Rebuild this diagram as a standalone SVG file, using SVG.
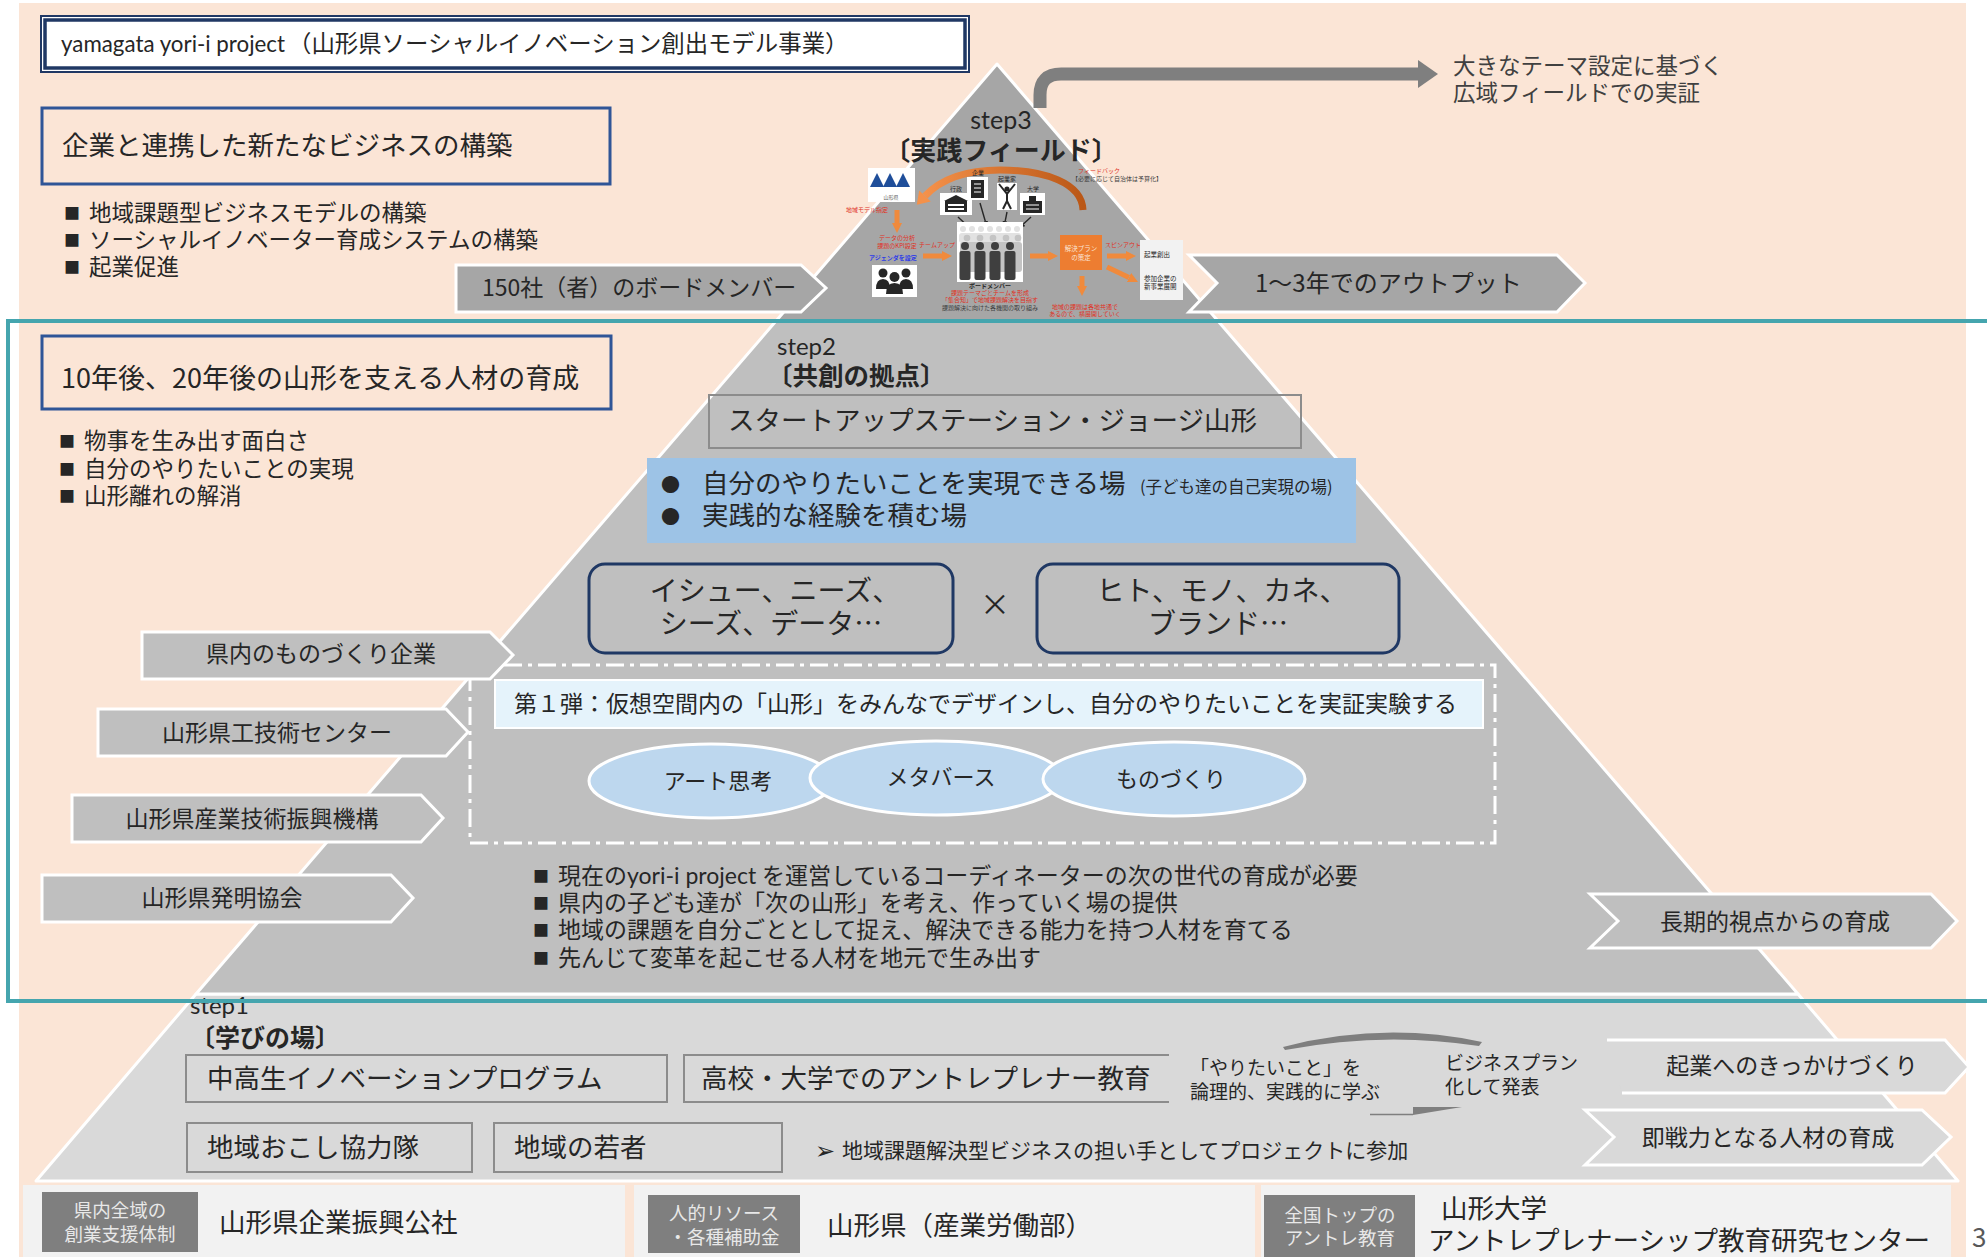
<svg xmlns="http://www.w3.org/2000/svg" width="1987" height="1257" viewBox="0 0 1987 1257">
<defs>
<style>
text{font-family:"Noto Sans CJK JP","Noto Sans",sans-serif;fill:#262626}
.lat{font-family:Lato,"Noto Sans CJK JP",sans-serif}
.m{text-anchor:middle}
.b{font-weight:700}
.f19{font-size:19px}.f21{font-size:21px}.f22{font-size:22.5px}.f23{font-size:23px}.f24{font-size:24px}
.f26{font-size:26.5px}.f27{font-size:27px}.f28{font-size:28px}
.sq{font-size:16px}
.tag{fill:#7F7F7F}
.tagt{fill:#E8E8E8;font-size:18.5px;text-anchor:middle}
.arrow{stroke:#fff;stroke-width:3;stroke-linejoin:miter}
.ar3{fill:#A6A6A6}.ar2{fill:#BFBFBF}.ar1{fill:#D9D9D9}
.frame{fill:none;stroke:#2F5597;stroke-width:3}
.sbox{fill:none;stroke:#8C8C8C;stroke-width:2}
.tiny{font-size:6px}
.red{fill:#E0301E}
.oa{stroke:#F08A3C;stroke-width:5;fill:none;marker-end:url(#oh)}
.ka{stroke:#262626;stroke-width:1.4;fill:none;marker-end:url(#kh)}
.ico{fill:#fff}
.dk{fill:#262626}
</style>
<linearGradient id="arcGrad" x1="0" y1="0" x2="1" y2="0">
<stop offset="0" stop-color="#F4914A"/><stop offset="1" stop-color="#BA5716"/>
</linearGradient>
<marker id="oh" viewBox="0 0 10 10" refX="0" refY="5" markerWidth="2" markerHeight="2.4" orient="auto"><path d="M0 0 L10 5 L0 10 Z" fill="#F08A3C"/></marker>
<marker id="kh" viewBox="0 0 10 10" refX="0" refY="5" markerWidth="4" markerHeight="4" orient="auto"><path d="M0 0 L10 5 L0 10 Z" fill="#262626"/></marker>
</defs>

<!-- page background -->
<g id="background">
<rect width="1987" height="1257" fill="#fff"/>
<rect x="19" y="3" width="1947" height="1254" fill="#FBE5D6"/>
</g>

<!-- three-layer pyramid -->
<g id="pyramid" stroke="#fff" stroke-width="3" stroke-linejoin="round">
<polygon id="layer-step1" points="196,994 1798,994 1958,1181 36,1181" fill="#D9D9D9"/>
<polygon id="layer-step2" points="776,321 1218,321 1798,994 196,994" fill="#BFBFBF"/>
<polygon id="layer-step3" points="997,64 1218,321 776,321" fill="#A6A6A6"/>
</g>

<!-- header -->
<g id="title">
<rect x="41" y="16" width="928" height="56" fill="#fff" stroke="#203864" stroke-width="2"/>
<rect x="45" y="20" width="920" height="48" fill="#fff" stroke="#203864" stroke-width="3.5"/>
<text class="lat" x="61" y="52" style="font-size:23px" textLength="224" lengthAdjust="spacingAndGlyphs">yamagata yori-i project</text>
<text x="288" y="52" style="font-size:23.4px">（山形県ソーシャルイノベーション創出モデル事業）</text>
</g>

<g id="goal-business">
<rect class="frame" x="42" y="108" width="568" height="76"/>
<text class="f26" x="62" y="155">企業と連携した新たなビジネスの構築</text>
<text class="f22"><tspan class="sq" x="64" y="219">■</tspan><tspan x="89" y="221">地域課題型ビジネスモデルの構築</tspan></text>
<text class="f22"><tspan class="sq" x="64" y="246">■</tspan><tspan x="89" y="248">ソーシャルイノベーター育成システムの構築</tspan></text>
<text class="f22"><tspan class="sq" x="64" y="273">■</tspan><tspan x="89" y="275">起業促進</tspan></text>
</g>

<!-- wide-area arrow, upper right -->
<g id="field-arrow">
<path d="M1040 108 V95 Q1040 74 1061 74 H1420" fill="none" stroke="#7F7F7F" stroke-width="13"/>
<polygon points="1418,60 1438,74 1418,88" fill="#7F7F7F"/>
<text class="f22" x="1453" y="74" style="fill:#404040">大きなテーマ設定に基づく</text>
<text class="f22" x="1453" y="101" style="fill:#404040">広域フィールドでの実証</text>
</g>

<!-- step3 -->
<g id="step3-label">
<text class="lat m" x="1001" y="129" style="font-size:25px">step3</text>
<text class="b m" x="1001" y="160" style="font-size:26px">〔実践フィールド〕</text>
</g>

<g id="step3-board-members">
<polygon class="arrow ar3" points="456,265 801,265 826,288 801,312 456,312"/>
<text class="f23" x="482" y="296">150社（者）のボードメンバー</text>
</g>
<g id="step3-output">
<polygon class="arrow ar3" points="1189,255 1557,255 1585,283 1557,312 1189,312 1217,283"/>
<text class="f24" x="1255" y="292">1〜3年でのアウトプット</text>
</g>

<!-- practice-field scheme inside step3 -->
<g id="step3-scheme">
<path d="M1083 210 C1082 183 1045 170 1000 170 C965 170 940 180 925 196" fill="none" stroke="url(#arcGrad)" stroke-width="7"/>
<polygon points="916.8,204.8 930.8,201.5 919.2,190.5" fill="#F4914A"/>
<text class="tiny red" x="1078" y="173">フィードバック</text>
<text class="tiny" x="1072" y="181" style="fill:#404040">【必要に応じて自治体は予算化】</text>

<rect class="ico" x="868" y="168" width="47" height="34"/>
<polygon points="870,187 877,173 884,187" fill="#1F4E9A"/>
<polygon points="883,187 890,173 897,187" fill="#1F4E9A"/>
<polygon points="896,187 903,173 910,187" fill="#1F4E9A"/>
<text class="m" x="891" y="199" style="font-size:5px;fill:#595959">山形県</text>

<text class="tiny m" x="956" y="191">行政</text>
<rect class="ico" x="940" y="193" width="32" height="22"/>
<polygon class="dk" points="944,201 956,195 968,201"/>
<rect class="dk" x="945" y="201" width="22" height="11"/>
<rect x="948" y="204" width="16" height="2" fill="#fff"/>
<rect x="948" y="208" width="16" height="2" fill="#fff"/>

<text class="tiny m" x="978" y="175">企業</text>
<rect class="ico" x="967" y="177" width="21" height="23"/>
<rect class="dk" x="971" y="180" width="13" height="18"/>
<path d="M974 184 H981 M974 188 H981 M974 192 H981" stroke="#fff" stroke-width="1.2"/>

<text class="tiny m" x="1007" y="181">起業家</text>
<rect class="ico" x="997" y="183" width="20" height="27"/>
<circle class="dk" cx="1007" cy="189" r="2.6"/>
<path d="M999 184 L1007 194 L1015 184 M1007 192 V201 L1003 209 M1007 201 L1011 209" stroke="#262626" stroke-width="2" fill="none"/>

<text class="tiny m" x="1033" y="191">大学</text>
<rect class="ico" x="1020" y="193" width="25" height="22"/>
<rect class="dk" x="1029" y="196" width="7" height="6"/>
<rect class="dk" x="1023" y="201" width="19" height="12"/>
<path d="M1026 205 H1039 M1026 209 H1039" stroke="#fff" stroke-width="1"/>

<line class="ka" x1="958" y1="217" x2="966.6" y2="224.9"/>
<line class="ka" x1="980" y1="203" x2="985.3" y2="221.2"/>
<line class="ka" x1="1007" y1="212" x2="1005.2" y2="221.1"/>
<line class="ka" x1="1031" y1="217" x2="1023.4" y2="224"/>

<rect class="ico" x="957" y="222" width="66" height="60"/>
<g fill="#E2E2E2">
<circle cx="963" cy="229" r="3"/><circle cx="972" cy="229" r="3"/><circle cx="981" cy="229" r="3"/><circle cx="990" cy="229" r="3"/><circle cx="999" cy="229" r="3"/><circle cx="1008" cy="229" r="3"/><circle cx="1017" cy="229" r="3"/>
<rect x="959" y="233" width="62" height="10" rx="3"/>
</g>
<g fill="#C4C4C4">
<circle cx="967" cy="238" r="3.3"/><circle cx="980" cy="238" r="3.3"/><circle cx="993" cy="238" r="3.3"/><circle cx="1006" cy="238" r="3.3"/><circle cx="1018" cy="238" r="3.3"/>
<rect x="960" y="242" width="62" height="30" rx="3"/>
</g>
<g fill="#3F3F3F">
<circle cx="965" cy="246" r="4"/><circle cx="980" cy="246" r="4"/><circle cx="995" cy="246" r="4"/><circle cx="1010" cy="246" r="4"/>
<rect x="959.5" y="251" width="11" height="29" rx="2"/><rect x="974.5" y="251" width="11" height="29" rx="2"/><rect x="989.5" y="251" width="11" height="29" rx="2"/><rect x="1004.5" y="251" width="11" height="29" rx="2"/>
</g>
<text class="m b" x="990" y="288" style="font-size:6px">ボードメンバー</text>
<text class="tiny m red" x="990" y="295">課題テーマごとチームを形成</text>
<text class="tiny m red" x="990" y="302">「集合知」で地域課題解決を目指す</text>
<text class="tiny m" x="990" y="310" style="fill:#404040">課題解決に向けた各機関の取り組み</text>

<text class="tiny m red" x="867" y="212">地域モデル指定</text>
<line class="oa" x1="897" y1="210" x2="897" y2="223"/>
<text class="tiny m red" x="897" y="240">データの分析</text>
<text class="tiny m red" x="897" y="248">課題のKPI設定</text>
<text class="tiny m b" x="893" y="260" style="fill:#2E3CE8">アジェンダを設定</text>
<rect class="ico" x="872" y="265" width="45" height="32"/>
<g class="dk">
<circle cx="883" cy="273" r="4.5"/><circle cx="906" cy="273" r="4.5"/>
<path d="M876 289 Q876 279 883 279 Q890 279 890 289 Z"/><path d="M899 289 Q899 279 906 279 Q913 279 913 289 Z"/>
<circle cx="894.5" cy="277" r="5"/>
<path d="M886 294 Q886 283 894.5 283 Q903 283 903 294 Z"/>
</g>

<text class="tiny m red" x="937" y="247">チームアップ</text>
<line class="oa" x1="923" y1="256" x2="942" y2="256"/>
<line class="oa" x1="1030" y1="256" x2="1048" y2="256"/>
<rect x="1060" y="235" width="42" height="35" fill="#ED7D31"/>
<text class="m" x="1081" y="251" style="font-size:6.5px;fill:#FBE5D6">解決プラン</text>
<text class="m" x="1081" y="260" style="font-size:6.5px;fill:#FBE5D6">の策定</text>
<line class="oa" x1="1082" y1="276" x2="1082" y2="286"/>
<text class="tiny m red" x="1085" y="309">地域の課題は各地共通で</text>
<text class="tiny m red" x="1085" y="316">あるので、横展開していく</text>

<text class="tiny m red" x="1123" y="247">スピンアウト</text>
<line class="oa" x1="1107" y1="256" x2="1126" y2="256"/>
<line class="oa" x1="1107" y1="267" x2="1129" y2="277.6"/>
<rect x="1140" y="240" width="43" height="60" fill="#F2F2F2"/>
<text x="1144" y="257" style="font-size:6.5px">起業創出</text>
<text x="1144" y="281" style="font-size:6.5px">参加企業の</text>
<text x="1144" y="289" style="font-size:6.5px">新事業展開</text>
</g>

<!-- step2 -->
<g id="goal-people">
<rect class="frame" x="42" y="336" width="569" height="73"/>
<text class="f27" x="61" y="388">10年後、20年後の山形を支える人材の育成</text>
<text class="f22"><tspan class="sq" x="59" y="447">■</tspan><tspan x="84" y="449">物事を生み出す面白さ</tspan></text>
<text class="f22"><tspan class="sq" x="59" y="475">■</tspan><tspan x="84" y="477">自分のやりたいことの実現</tspan></text>
<text class="f22"><tspan class="sq" x="59" y="502">■</tspan><tspan x="84" y="504">山形離れの解消</tspan></text>
</g>

<g id="step2-label">
<text class="lat" x="777" y="355" style="font-size:24px">step2</text>
<text class="b" x="767" y="385" style="font-size:25.5px">〔共創の拠点〕</text>
</g>

<g id="startup-station">
<rect class="sbox" x="709" y="395" width="592" height="53"/>
<text class="f26" x="728" y="430">スタートアップステーション・ジョージ山形</text>
</g>

<g id="place">
<rect x="647" y="458" width="709" height="85" fill="#9DC3E6"/>
<text x="661" y="492" style="font-size:19px">●</text>
<text class="f26" x="702" y="493">自分のやりたいことを実現できる場</text>
<text x="1140" y="493" style="font-size:16.5px">(子ども達の自己実現の場)</text>
<text x="661" y="524" style="font-size:19px">●</text>
<text class="f26" x="702" y="525">実践的な経験を積む場</text>
</g>

<g id="issues">
<rect x="589" y="564" width="364" height="89" rx="16" fill="none" stroke="#1F3864" stroke-width="3"/>
<text class="f28 m" x="775" y="601">イシュー、ニーズ、</text>
<text class="f28 m" x="771" y="634">シーズ、データ…</text>
</g>
<text id="times" class="m" x="995" y="615" style="font-size:30px">×</text>
<g id="resources">
<rect x="1037" y="564" width="362" height="89" rx="16" fill="none" stroke="#1F3864" stroke-width="3"/>
<text class="f28 m" x="1222" y="601">ヒト、モノ、カネ、</text>
<text class="f28 m" x="1218" y="634">ブランド…</text>
</g>

<g id="first-project">
<rect x="470" y="665" width="1025" height="178" fill="none" stroke="#fff" stroke-width="3" stroke-dasharray="18 6 4 6"/>
<rect x="495" y="680" width="988" height="48" fill="#E5F3FB" stroke="#fff" stroke-width="2"/>
<text class="f23" x="514" y="712">第１弾：仮想空間内の「山形」をみんなでデザインし、自分のやりたいことを実証実験する</text>
</g>
<g id="art-thinking">
<ellipse cx="711" cy="781" rx="122" ry="37" fill="#BDD7EE" stroke="#fff" stroke-width="3"/>
<text class="m" x="718" y="789" style="font-size:22px">アート思考</text>
</g>
<g id="metaverse">
<ellipse cx="936" cy="778" rx="126" ry="37" fill="#BDD7EE" stroke="#fff" stroke-width="3"/>
<text class="m" x="941" y="785" style="font-size:22px">メタバース</text>
</g>
<g id="monozukuri">
<ellipse cx="1174" cy="779" rx="131" ry="37" fill="#BDD7EE" stroke="#fff" stroke-width="3"/>
<text class="m" x="1171" y="787" style="font-size:22px">ものづくり</text>
</g>

<g id="step2-points">
<text class="sq" x="533" y="882">■</text>
<text class="f23 lat" x="558" y="884">現在のyori-i project を運営しているコーディネーターの次の世代の育成が必要</text>
<text class="sq" x="533" y="909">■</text>
<text class="f23" x="558" y="911">県内の子ども達が「次の山形」を考え、作っていく場の提供</text>
<text class="sq" x="533" y="936">■</text>
<text class="f23" x="558" y="938">地域の課題を自分ごととして捉え、解決できる能力を持つ人材を育てる</text>
<text class="sq" x="533" y="964">■</text>
<text class="f23" x="558" y="966">先んじて変革を起こせる人材を地元で生み出す</text>
</g>

<g id="partner-monozukuri">
<polygon class="arrow ar2" points="142,632 490,632 513,655 490,679 142,679"/>
<text class="f23 m" x="321" y="662">県内のものづくり企業</text>
</g>
<g id="partner-tech-center">
<polygon class="arrow ar2" points="98,709 446,709 468,732 446,756 98,756"/>
<text class="f23 m" x="277" y="741">山形県工技術センター</text>
</g>
<g id="partner-promotion">
<polygon class="arrow ar2" points="72,795 421,795 443,818 421,842 72,842"/>
<text class="f23 m" x="252" y="827">山形県産業技術振興機構</text>
</g>
<g id="partner-invention">
<polygon class="arrow ar2" points="42,875 391,875 413,898 391,922 42,922"/>
<text class="f23 m" x="222" y="906">山形県発明協会</text>
</g>
<g id="long-term">
<polygon class="arrow ar2" points="1590,894 1931,894 1957,921 1931,948 1590,948 1618,921"/>
<text class="f23 m" x="1775" y="930">長期的視点からの育成</text>
</g>

<!-- step1 -->
<g id="step1-label">
<text class="lat" x="190" y="1014" style="font-size:24px">step1</text>
<text class="b" x="190" y="1047" style="font-size:25px">〔学びの場〕</text>
</g>
<g id="program-junior">
<rect class="sbox" x="186" y="1055" width="481" height="47"/>
<text class="f26" x="207" y="1088">中高生イノベーションプログラム</text>
</g>
<g id="program-university">
<path class="sbox" d="M1169 1055 H684 V1102 H1169"/>
<text class="f26" x="701" y="1088">高校・大学でのアントレプレナー教育</text>
</g>
<g id="cycle">
<path d="M1283 1047 Q1383 1021 1482 1042 L1479 1046 Q1383 1031 1285 1050 Z" fill="#7F7F7F"/>
<path d="M1370 1114.5 H1413" stroke="#7F7F7F" stroke-width="1.5"/>
<polygon points="1413,1107 1462,1107 1413,1115" fill="#7F7F7F"/>
<text class="f19" x="1190" y="1075">「やりたいこと」を</text>
<text class="f19" x="1190" y="1099">論理的、実践的に学ぶ</text>
<text class="f19" x="1445" y="1070">ビジネスプラン</text>
<text class="f19" x="1445" y="1094">化して発表</text>
</g>
<g id="outcome-startup">
<polygon class="ar1" points="1607,1040 1945,1040 1969,1067 1945,1093 1622,1093"/>
<polyline points="1607,1040 1945,1040 1969,1067 1945,1093 1622,1093" fill="none" stroke="#fff" stroke-width="3"/>
<text class="f23 m" x="1792" y="1074">起業へのきっかけづくり</text>
</g>
<g id="outcome-ready">
<polygon class="arrow ar1" points="1585,1110 1922,1110 1951,1137 1922,1165 1585,1165 1614,1137"/>
<text class="f23 m" x="1768" y="1146">即戦力となる人材の育成</text>
</g>
<g id="program-coop">
<rect class="sbox" x="187" y="1123" width="285" height="49"/>
<text class="f26" x="207" y="1157">地域おこし協力隊</text>
</g>
<g id="program-youth">
<rect class="sbox" x="494" y="1123" width="288" height="49"/>
<text class="f26" x="514" y="1157">地域の若者</text>
</g>
<text id="project-note-mark" x="815" y="1159" style="font-family:'DejaVu Sans',sans-serif;font-size:24px">➢</text>
<text id="project-note" class="f21" x="842" y="1158">地域課題解決型ビジネスの担い手としてプロジェクトに参加</text>

<!-- frame round the step2 band -->
<rect id="step2-frame" x="8" y="321" width="1990" height="680" fill="none" stroke="#45A5AE" stroke-width="4"/>

<!-- support organisations -->
<g id="support-kosha">
<rect x="23" y="1185" width="602" height="72" fill="#F2F2F2"/>
<rect class="tag" x="42" y="1192" width="156" height="60"/>
<text class="tagt" x="120" y="1217">県内全域の</text>
<text class="tagt" x="120" y="1241">創業支援体制</text>
<text class="f26" x="219" y="1232">山形県企業振興公社</text>
</g>
<g id="support-prefecture">
<rect x="634" y="1185" width="621" height="72" fill="#F2F2F2"/>
<rect class="tag" x="648" y="1195" width="152" height="58"/>
<text class="tagt" x="724" y="1220">人的リソース</text>
<text class="tagt" x="724" y="1244">・各種補助金</text>
<text class="f26" x="827" y="1235">山形県（産業労働部）</text>
</g>
<g id="support-university">
<rect x="1261" y="1185" width="690" height="72" fill="#F2F2F2"/>
<rect class="tag" x="1264" y="1195" width="151" height="62"/>
<text class="tagt" x="1340" y="1222">全国トップの</text>
<text class="tagt" x="1340" y="1245">アントレ教育</text>
<text class="f26" x="1441" y="1218">山形大学</text>
<text class="f26" x="1428" y="1250">アントレプレナーシップ教育研究センター</text>
</g>
<text id="page-number" x="1972" y="1247" style="font-size:26px;fill:#595959">3</text>
</svg>
